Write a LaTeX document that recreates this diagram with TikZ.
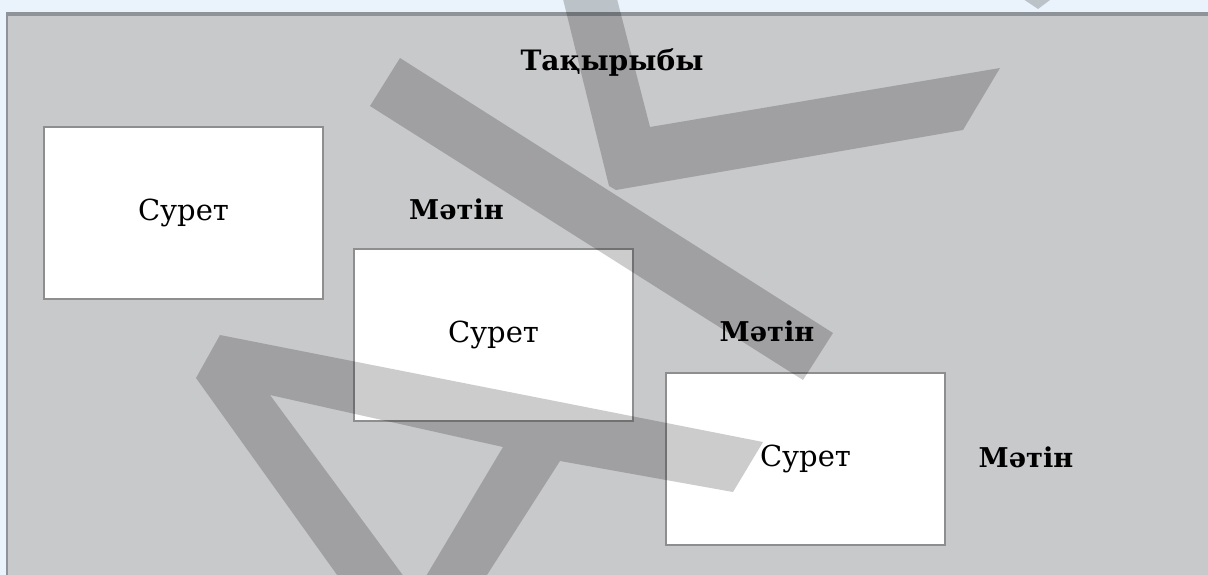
\documentclass[tikz,border=0pt]{standalone}
\usepackage{fontspec}
\setmainfont{DejaVu Serif}
\definecolor{bgblue}{HTML}{EAF3FB}
\definecolor{panel}{HTML}{C8C9CB}
\definecolor{rim}{HTML}{8D9399}
\definecolor{boxgray}{HTML}{8E8E8E}

\begin{document}
\begin{tikzpicture}[x=0.02cm,y=-0.02cm,picbox/.style={draw=boxgray, line width=1.1pt, fill=white, minimum width=5.58cm, minimum height=3.44cm, inner sep=0pt, font=\fontsize{16.5}{19}\selectfont},txt/.style={font=\fontsize{15.5}{18}\selectfont\bfseries},head/.style={font=\fontsize{16}{20}\selectfont\bfseries},wmark/.style={fill=black, fill opacity=0.2}]
\useasboundingbox (0,0) rectangle (1208,575);
% page ground and the grey sheet
\fill[bgblue] (0,0) rectangle (1208,575);
\fill[panel] (6,13) rectangle (1208,575);
\draw[rim, line width=2.2pt] (6,14) -- (1208,14); \draw[rim, line width=1.6pt] (7,13) -- (7,575);
% picture frames, stepping down to the right
\node[picbox] (pic1) at (183.5,213) {Сурет};
\node[picbox] (pic2) at (493.5,335) {Сурет};
\node[picbox] (pic3) at (805.5,459) {Сурет};
\node[txt] (txt1) at (456.5,209) {Мәтін}; \node[txt] (txt2) at (767,331) {Мәтін}; \node[txt] (txt3) at (1026,457) {Мәтін};
\node[head] (title) at (612,63) {Тақырыбы};
% watermark strokes
\begin{scope}
\clip (0,0) rectangle (1208,575);
\fill[wmark] (400,58) -- (833,333) -- (803,380) -- (370,106) -- cycle
  (562,-5) -- (616,-5) -- (650,127) -- (1000,68) -- (963,130) -- (616,190) -- (609,186) -- cycle
  (1020,-3) -- (1054,-3) -- (1038,9) -- cycle;
\fill[wmark, even odd rule] (220,335) -- (763,442) -- (733,492) -- (560,461) -- (471,600) -- (355,600) -- (196,378) -- cycle
  (270,395) -- (503,447) -- (416,593) -- cycle;
\end{scope}
\end{tikzpicture}
\end{document}
